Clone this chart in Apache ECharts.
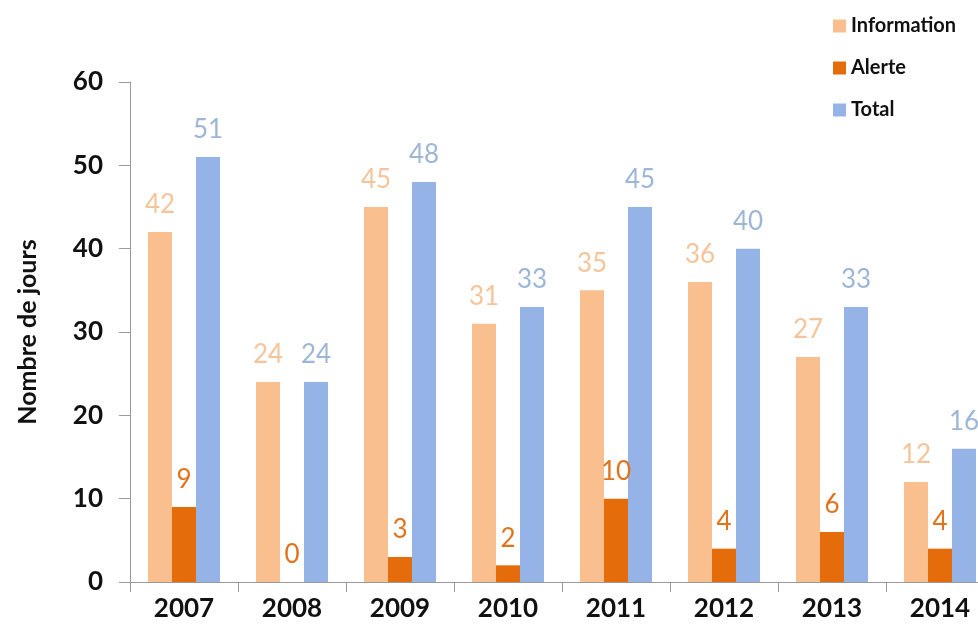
<!DOCTYPE html>
<html><head><meta charset="utf-8">
<script src="https://cdn.jsdelivr.net/npm/echarts@6/dist/echarts.min.js"></script>
<style>html,body{margin:0;padding:0;background:#fff;overflow:hidden;width:978px;height:636px}#c{width:1010px;height:636px}</style>
</head><body><div id="c"></div>
<script>
var years = ['2007','2008','2009','2010','2011','2012','2013','2014'];
var information = [42,24,45,31,35,36,27,12];
var alerte = [9,0,3,2,10,4,6,4];
var total = [51,24,48,33,45,40,33,16];
var yTicks = [0,10,20,30,40,50,60];

var FONT = 'Lato, "Open Sans", sans-serif';
var chart = echarts.init(document.getElementById('c'));
function lab(color){return {show:true,position:'top',distance:14,color:color,fontSize:26,fontFamily:FONT};}
chart.setOption({
  animation:false,
  backgroundColor:'#fff',
  legend:{
    orient:'vertical', left:828, top:11, itemWidth:13, itemHeight:13, itemGap:22,
    icon:'rect',
    textStyle:{fontSize:20,fontWeight:'bold',color:'#111',fontFamily:FONT,padding:[0,0,0,0]},
    data:['Information','Alerte','Total']
  },
  grid:{left:130, top:82, width:864, height:500},
  xAxis:{
    type:'category', data:years,
    axisLine:{lineStyle:{color:'#999'}},
    axisTick:{show:true,length:10,lineStyle:{color:'#999'}},
    axisLabel:{fontSize:26,fontWeight:'bold',color:'#111',margin:14,fontFamily:FONT}
  },
  yAxis:{
    type:'value', min:yTicks[0], max:yTicks[yTicks.length-1], interval:10,
    name:'Nombre de jours', nameLocation:'middle', nameGap:90, nameRotate:90,
    nameTextStyle:{fontSize:25,fontWeight:'bold',color:'#111',fontFamily:FONT},
    axisLine:{show:true,lineStyle:{color:'#999'}},
    axisTick:{show:true,length:11,lineStyle:{color:'#999'}},
    splitLine:{show:false},
    axisLabel:{fontSize:26,fontWeight:'bold',color:'#111',margin:27,fontFamily:FONT}
  },
  series:[
    {name:'Information',type:'bar',data:information,barWidth:24,barGap:'0%',
     itemStyle:{color:'#F9BF8F'},label:lab('#F5C49A')},
    {name:'Alerte',type:'bar',data:alerte,barWidth:24,barGap:'0%',
     itemStyle:{color:'#E46C0A'},label:lab('#E2731C')},
    {name:'Total',type:'bar',data:total,barWidth:24,barGap:'0%',
     itemStyle:{color:'#95B3E7'},label:lab('#9DB6D8')}
  ]
});
</script></body></html>
